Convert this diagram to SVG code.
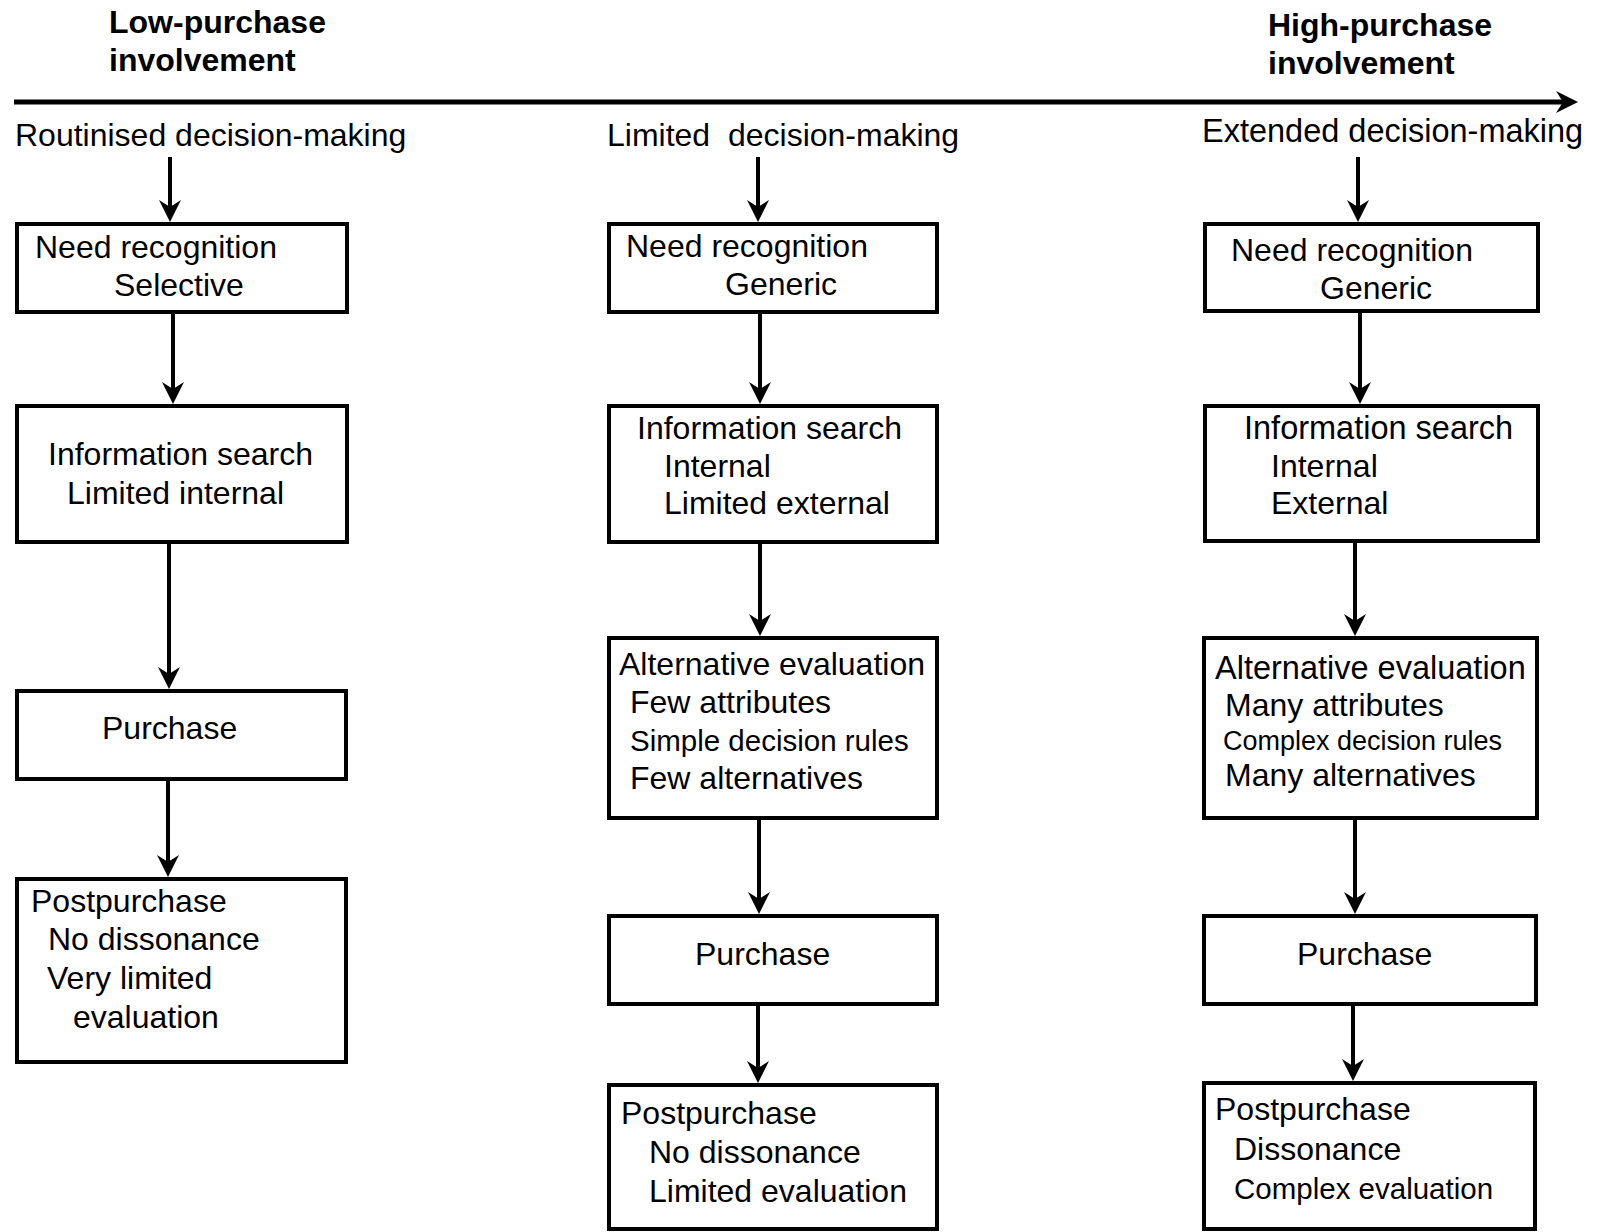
<svg xmlns="http://www.w3.org/2000/svg" width="1600" height="1232" viewBox="0 0 1600 1232">
  <style>
    .box { fill: #fff; stroke: #000; stroke-width: 4; }
    .t { font-family: "Liberation Sans", Arial, sans-serif; font-size: 32px; fill: #000; }
    .lg { font-size: 32.5px; }
    .sm { font-size: 29.5px; }
    .xs { font-size: 27px; }
    .hd { font-family: "Liberation Sans", Arial, sans-serif; font-size: 32px; font-weight: bold; fill: #000; }
    .conn { stroke: #000; stroke-width: 4; fill: none; marker-end: url(#arrow); }
    .axis { stroke-width: 5; }
  </style>
  <defs>
    <marker id="arrow" markerUnits="userSpaceOnUse" viewBox="-14 -12 26 24" refX="0" refY="0" markerWidth="26" markerHeight="24" orient="auto">
      <path d="M10,0 L-12,-11 L-5,0 L-12,11 Z" fill="#000"/>
    </marker>
  </defs>
  <rect width="1600" height="1232" fill="#fff"/>

  <!-- involvement scale -->
  <g id="scale">
    <text class="hd" x="109" y="33">Low-purchase</text>
    <text class="hd" x="109" y="71">involvement</text>
    <text class="hd" x="1268" y="36">High-purchase</text>
    <text class="hd" x="1268" y="74">involvement</text>
  </g>

  <!-- column headings -->
  <g id="headings">
    <text class="t" x="15" y="146">Routinised decision-making</text>
    <text class="t" x="607" y="146" xml:space="preserve">Limited  decision-making</text>
    <text class="t lg" x="1202" y="142">Extended decision-making</text>
  </g>

  <!-- routinised column -->
  <g id="r-need">
    <rect class="box" x="17" y="224" width="330" height="88"/>
    <text class="t" x="35" y="258">Need recognition</text>
    <text class="t" x="114" y="296">Selective</text>
  </g>
  <g id="r-info">
    <rect class="box" x="17" y="406" width="330" height="136"/>
    <text class="t" x="48" y="465">Information search</text>
    <text class="t" x="67" y="504">Limited internal</text>
  </g>
  <g id="r-purchase">
    <rect class="box" x="17" y="691" width="329" height="88"/>
    <text class="t" x="102" y="739">Purchase</text>
  </g>
  <g id="r-post">
    <rect class="box" x="17" y="879" width="329" height="183"/>
    <text class="t" x="31" y="912">Postpurchase</text>
    <text class="t" x="48" y="950">No dissonance</text>
    <text class="t" x="47" y="989">Very limited</text>
    <text class="t" x="73" y="1028">evaluation</text>
  </g>

  <!-- limited column -->
  <g id="l-need">
    <rect class="box" x="609" y="224" width="328" height="88"/>
    <text class="t" x="626" y="257">Need recognition</text>
    <text class="t" x="725" y="295">Generic</text>
  </g>
  <g id="l-info">
    <rect class="box" x="609" y="406" width="328" height="136"/>
    <text class="t" x="637" y="439">Information search</text>
    <text class="t" x="664" y="477">Internal</text>
    <text class="t" x="664" y="514">Limited external</text>
  </g>
  <g id="l-alt">
    <rect class="box" x="609" y="638" width="328" height="180"/>
    <text class="t" x="619" y="675">Alternative evaluation</text>
    <text class="t" x="630" y="713">Few attributes</text>
    <text class="t sm" x="630" y="751">Simple decision rules</text>
    <text class="t" x="630" y="789">Few alternatives</text>
  </g>
  <g id="l-purchase">
    <rect class="box" x="609" y="916" width="328" height="88"/>
    <text class="t" x="695" y="965">Purchase</text>
  </g>
  <g id="l-post">
    <rect class="box" x="609" y="1085" width="328" height="144"/>
    <text class="t" x="621" y="1124">Postpurchase</text>
    <text class="t" x="649" y="1163">No dissonance</text>
    <text class="t" x="649" y="1202">Limited evaluation</text>
  </g>

  <!-- extended column -->
  <g id="e-need">
    <rect class="box" x="1205" y="224" width="333" height="87"/>
    <text class="t" x="1231" y="261">Need recognition</text>
    <text class="t" x="1320" y="299">Generic</text>
  </g>
  <g id="e-info">
    <rect class="box" x="1205" y="406" width="333" height="135"/>
    <text class="t lg" x="1244" y="439">Information search</text>
    <text class="t" x="1271" y="477">Internal</text>
    <text class="t" x="1271" y="514">External</text>
  </g>
  <g id="e-alt">
    <rect class="box" x="1204" y="638" width="333" height="180"/>
    <text class="t lg" x="1215" y="679">Alternative evaluation</text>
    <text class="t" x="1225" y="716">Many attributes</text>
    <text class="t xs" x="1223" y="750">Complex decision rules</text>
    <text class="t" x="1225" y="786">Many alternatives</text>
  </g>
  <g id="e-purchase">
    <rect class="box" x="1204" y="916" width="332" height="88"/>
    <text class="t" x="1297" y="965">Purchase</text>
  </g>
  <g id="e-post">
    <rect class="box" x="1204" y="1083" width="331" height="146"/>
    <text class="t" x="1215" y="1120">Postpurchase</text>
    <text class="t" x="1234" y="1160">Dissonance</text>
    <text class="t sm" x="1234" y="1199">Complex evaluation</text>
  </g>

  <!-- connectors -->
  <g id="connectors">
    <line class="conn axis" x1="14" y1="102" x2="1568" y2="102"/>

    <line class="conn" x1="170" y1="157" x2="170" y2="212"/>
    <line class="conn" x1="173" y1="312" x2="173" y2="394"/>
    <line class="conn" x1="169" y1="542" x2="169" y2="679"/>
    <line class="conn" x1="168" y1="779" x2="168" y2="867"/>

    <line class="conn" x1="758" y1="157" x2="758" y2="212"/>
    <line class="conn" x1="760" y1="312" x2="760" y2="394"/>
    <line class="conn" x1="760" y1="542" x2="760" y2="626"/>
    <line class="conn" x1="759" y1="818" x2="759" y2="904"/>
    <line class="conn" x1="758" y1="1004" x2="758" y2="1073"/>

    <line class="conn" x1="1358" y1="157" x2="1358" y2="212"/>
    <line class="conn" x1="1360" y1="311" x2="1360" y2="394"/>
    <line class="conn" x1="1355" y1="541" x2="1355" y2="626"/>
    <line class="conn" x1="1355" y1="818" x2="1355" y2="904"/>
    <line class="conn" x1="1353" y1="1004" x2="1353" y2="1071"/>
  </g>
</svg>
